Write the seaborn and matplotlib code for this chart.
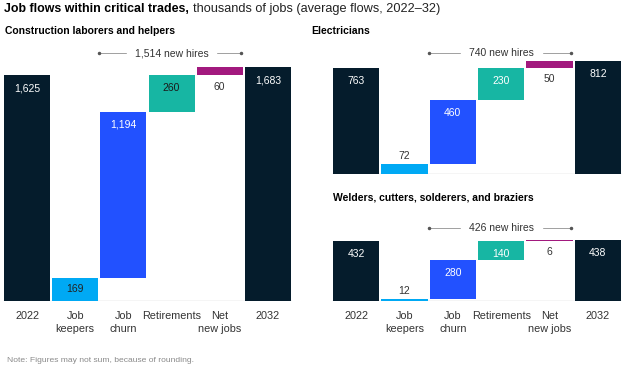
import matplotlib
matplotlib.use("Agg")
import matplotlib.pyplot as plt
import seaborn as sns

# data
categories = ["2022", "Job\nkeepers", "Job\nchurn", "Retirements", "Net\nnew jobs", "2032"]

construction = [1625, 169, 1194, 260, 60, 1683]
electricians = [763, 72, 460, 230, 50, 812]
welders = [432, 12, 280, 140, 6, 438]

construction_hires = 1514
electricians_hires = 740
welders_hires = 426

NAVY = "#051c2c"
bar_colors = [NAVY, "#00a9f4", "#2251ff", "#17b6a3", "#a2197e", NAVY]

sns.set_theme(style="white")
plt.rcParams["font.family"] = ["Liberation Sans", "DejaVu Sans"]

W, H = 624, 370
fig = plt.figure(figsize=(W / 100, H / 100), dpi=100)
renderer = fig.canvas.get_renderer()

PX_PER_UNIT = 0.139  # same vertical scale in every panel


def make_ax(x0, x1, base_px, ymax):
    h = ymax * PX_PER_UNIT
    ax = fig.add_axes([x0 / W, (H - base_px) / H, (x1 - x0) / W, h / H])
    ax.patch.set_visible(False)
    return ax


def bottoms_for(vals):
    # keepers start at zero, churn / retirements / net new stack on top
    b = [0, 0]
    run = vals[1]
    for v in vals[2:5]:
        b.append(run)
        run += v
    b.append(0)
    return b


def draw_panel(ax, vals, hires, bracket_y, ymax, retire_color, show_labels):
    bottoms = bottoms_for(vals)
    sns.barplot(x=categories, y=vals, bottom=bottoms, order=categories,
                color=NAVY, saturation=1, width=0.955, errorbar=None, ax=ax)
    for p, c in zip(ax.patches, bar_colors):
        p.set_facecolor(c)
        p.set_edgecolor("none")

    ax.axhline(0, color="#d0d0d0", lw=1, zorder=0)

    for i, (v, b) in enumerate(zip(vals, bottoms)):
        txt = f"{v:,}"
        top = b + v
        kw = dict(ha="center", va="center", fontsize=7.5, textcoords="offset points")
        if i in (0, 2, 5):
            ax.annotate(txt, (i, top), xytext=(0, -9.4), color="white", **kw)
        elif i == 3:
            ax.annotate(txt, (i, top), xytext=(0, -9.4), color=retire_color, **kw)
        elif i == 4:
            ax.annotate(txt, (i, b), xytext=(0, -8), color="#333333", **kw)
        else:
            if v * PX_PER_UNIT > 20:
                ax.annotate(txt, (i, b + v / 2), xytext=(0, 0), color="#222222", **kw)
            else:
                ax.annotate(txt, (i, top), xytext=(0, 6), color="#333333", **kw)

    ax.set_xlim(-0.5, 5.5)
    ax.set_ylim(0, ymax)
    ax.set_yticks([])
    ax.set_xlabel("")
    ax.set_ylabel("")
    sns.despine(ax=ax, left=True, bottom=True)
    ax.tick_params(axis="x", length=0, pad=7.5, labelsize=7.8,
                   labelcolor="#333333", labelbottom=show_labels)
    for lab in ax.get_xticklabels():
        lab.set_linespacing(1.3)

    # bracket with "new hires" label
    x0, x1 = 1.5, 4.45
    t = ax.text(3, bracket_y, f"{hires:,} new hires", ha="center", va="center",
                fontsize=7.5, color="#333333")
    ext = t.get_window_extent(renderer=renderer)
    inv = ax.transData.inverted()
    gl = inv.transform((ext.x0 - 9, 0))[0]
    gr = inv.transform((ext.x1 + 9, 0))[0]
    for a, bb in ((x0, gl), (gr, x1)):
        ax.plot([a, bb], [bracket_y, bracket_y], color="#a0a0a0", lw=0.7, clip_on=False)
    ax.plot([x0, x1], [bracket_y, bracket_y], "o", ms=1.5, color="#555555", clip_on=False)


ax1 = make_ax(3, 292, 301, 1800)
draw_panel(ax1, construction, construction_hires, 1784, 1800, "#1a1a1a", True)

ax2 = make_ax(332, 622, 174, 900)
draw_panel(ax2, electricians, electricians_hires, 870, 900, "white", False)

ax3 = make_ax(332, 622, 300.7, 540)
draw_panel(ax3, welders, welders_hires, 523, 540, "white", True)

# titles
t1 = fig.text(4 / W, 1 - 12 / H, "Job flows within critical trades,", fontsize=8.9,
              weight="bold", color="black", va="baseline")
e = t1.get_window_extent(renderer=renderer)
fig.text((e.x1 + 4) / W, 1 - 12 / H, "thousands of jobs (average flows, 2022\u201332)",
         fontsize=9.2, color="#222222", va="baseline")

fig.text(5 / W, 1 - 34 / H, "Construction laborers and helpers", fontsize=7.5,
         weight="bold", color="black", va="baseline")
fig.text(311 / W, 1 - 34 / H, "Electricians", fontsize=7.5,
         weight="bold", color="black", va="baseline")
fig.text(333 / W, 1 - 201 / H, "Welders, cutters, solderers, and braziers", fontsize=7.5,
         weight="bold", color="black", va="baseline")

fig.text(7 / W, 1 - 362 / H, "Note: Figures may not sum, because of rounding.",
         fontsize=6.1, color="#8a8a8a", va="baseline")

fig.savefig("out.png", dpi=100)
